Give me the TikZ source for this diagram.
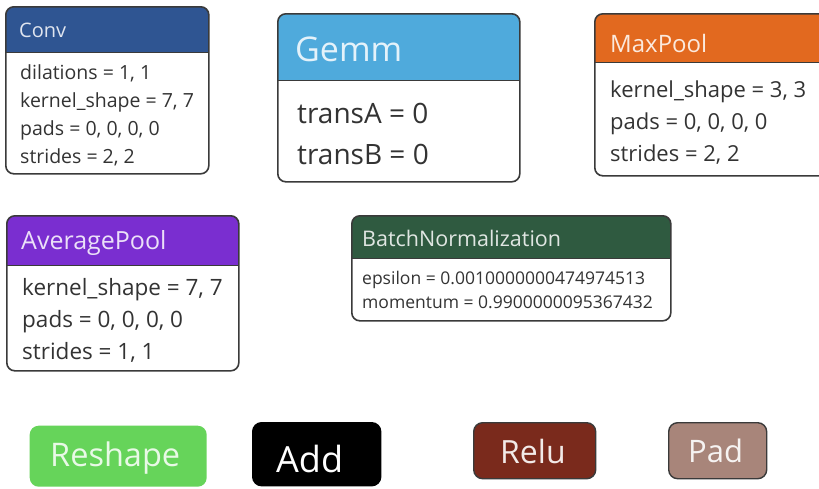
\documentclass[tikz,border=0pt]{standalone}
\usepackage{fontspec}
\setmainfont{Open Sans}
\definecolor{convc}{HTML}{2F5592}
\definecolor{gemmc}{HTML}{4FAADC}
\definecolor{maxc}{HTML}{E2691F}
\definecolor{avgc}{HTML}{7A2ED0}
\definecolor{bnc}{HTML}{2F5A40}
\definecolor{reshc}{HTML}{66D45A}
\definecolor{reluc}{HTML}{7A2A1C}
\definecolor{padc}{HTML}{A8857A}
\definecolor{bordc}{HTML}{3A3A3A}
\definecolor{txtc}{HTML}{333333}
\tikzset{
  card/.style n args={2}{draw=bordc, line width=1.6pt, rounded corners=8pt, fill=white,
    anchor=north west, inner sep=0pt,
    path picture={\fill[#1, sharp corners] (path picture bounding box.north west) rectangle ([yshift=-#2]path picture bounding box.north east);
      \draw[bordc, line width=1.2pt, sharp corners] ([yshift=-#2]path picture bounding box.north west) -- ([yshift=-#2]path picture bounding box.north east);}},
  ttl/.style={anchor=west, inner sep=0pt},
  body/.style={anchor=north west, inner sep=0pt, align=left, text=txtc},
  pill/.style={draw=bordc, line width=1.4pt, rounded corners=9pt, anchor=north west, inner sep=0pt}
}
\begin{document}
\begin{tikzpicture}[x=1pt,y=-1pt]
\clip (0,0) rectangle (819,488);
\fill[white] (0,0) rectangle (819,488);
% Conv
\node[card={convc}{46pt}, minimum width=203pt, minimum height=167pt] (conv) at (5,6) {};
\node[ttl, text=convc!15, font=\fontsize{20}{22}\selectfont] (convt) at (19,30) {Conv};
\node[body, font=\fontsize{19.5}{28}\selectfont] (convb) at (20,64) {dilations = 1, 1\\kernel\_shape = 7, 7\\pads = 0, 0, 0, 0\\strides = 2, 2};
% Gemm
\node[card={gemmc}{67pt}, minimum width=242pt, minimum height=168pt] (gemm) at (277,13) {};
\node[ttl, text=gemmc!15, font=\fontsize{34}{38}\selectfont] (gemmt) at (295,49) {Gemm};
\node[body, font=\fontsize{28}{41}\selectfont] (gemmb) at (297,103) {transA = 0\\transB = 0};
% MaxPool
\node[card={maxc}{49pt}, minimum width=240pt, minimum height=162pt] (maxp) at (594,13) {};
\node[ttl, text=maxc!15, font=\fontsize{24}{28}\selectfont] (maxt) at (610,43) {MaxPool};
\node[body, font=\fontsize{22}{32}\selectfont] (maxb) at (610,81) {kernel\_shape = 3, 3\\pads = 0, 0, 0, 0\\strides = 2, 2};
% AveragePool
\node[card={avgc}{50pt}, minimum width=232pt, minimum height=155pt] (avg) at (6,215) {};
\node[ttl, text=avgc!15, font=\fontsize{25}{28}\selectfont] (avgt) at (21,243) {AveragePool};
\node[body, font=\fontsize{22.5}{32}\selectfont] (avgb) at (22,278) {kernel\_shape = 7, 7\\pads = 0, 0, 0, 0\\strides = 1, 1};
% BatchNormalization
\node[card={bnc}{43pt}, minimum width=319pt, minimum height=105pt] (bn) at (351,215) {};
\node[ttl, text=bnc!15, font=\fontsize{21.5}{24}\selectfont] (bnt) at (362,238) {BatchNormalization};
\node[body, font=\fontsize{17.5}{24}\selectfont] (bnb) at (362,271) {epsilon = 0.0010000000474974513\\momentum = 0.9900000095367432};
% bottom row
\node[pill, draw=none, fill=reshc, minimum width=177pt, minimum height=61pt] (resh) at (29,425) {};
\node[ttl, text=reshc!15, font=\fontsize{32.5}{36}\selectfont] (resht) at (50,458) {Reshape};
\node[pill, fill=black, draw=black, minimum width=128pt, minimum height=63pt] (add) at (252,422) {};
\node[ttl, text=white, font=\fontsize{36}{40}\selectfont] (addt) at (276,459) {Add};
\node[pill, fill=reluc, minimum width=122pt, minimum height=56pt] (relu) at (473,422) {};
\node[ttl, text=reluc!10, font=\fontsize{32}{36}\selectfont] (relut) at (500,451) {Relu};
\node[pill, fill=padc, minimum width=98pt, minimum height=56pt] (pad) at (668,422) {};
\node[ttl, text=padc!10, font=\fontsize{31}{34}\selectfont] (padt) at (688,451) {Pad};
\end{tikzpicture}
\end{document}
